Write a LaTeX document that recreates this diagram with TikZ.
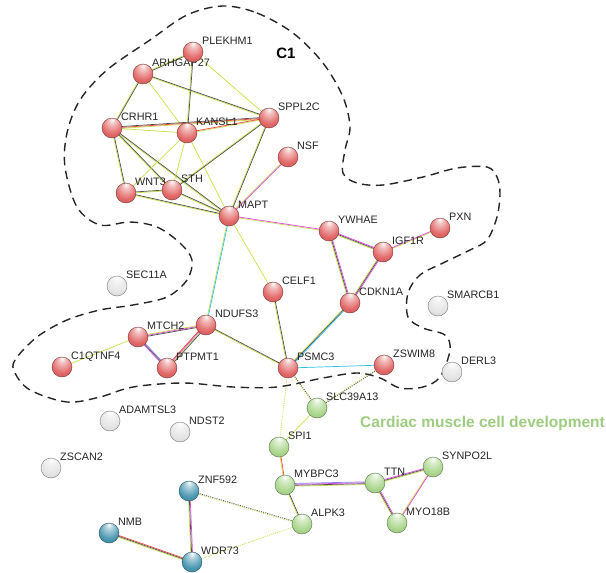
\documentclass[tikz,border=0pt]{standalone}
\usepackage{fontspec}
\setmainfont{Liberation Sans}
\usetikzlibrary{calc}
\pgfdeclarelayer{bgfill}\pgfdeclarelayer{bg}\pgfdeclarelayer{fg}
\pgfsetlayers{bgfill,bg,main,fg}
\definecolor{cR}{RGB}{226,102,102}
\definecolor{cG}{RGB}{170,214,140}
\definecolor{cT}{RGB}{72,150,176}
\definecolor{cW}{RGB}{228,228,228}
\definecolor{yl}{RGB}{200,226,72}
\definecolor{gy}{RGB}{80,80,80}
\definecolor{mg}{RGB}{222,70,222}
\definecolor{cy}{RGB}{45,190,232}
\definecolor{rd}{RGB}{240,70,70}
\definecolor{pu}{RGB}{140,130,235}
\definecolor{cardgreen}{RGB}{158,204,128}
\pgfdeclareradialshading{shR}{\pgfpoint{0bp}{22bp}}{color(0bp)=(white); color(8bp)=(cR!40!white); color(26bp)=(cR); color(44bp)=(cR!85!black); color(50bp)=(cR!68!black)}
\pgfdeclareradialshading{shG}{\pgfpoint{0bp}{22bp}}{color(0bp)=(white); color(8bp)=(cG!40!white); color(26bp)=(cG); color(44bp)=(cG!85!black); color(50bp)=(cG!68!black)}
\pgfdeclareradialshading{shT}{\pgfpoint{0bp}{22bp}}{color(0bp)=(white); color(8bp)=(cT!40!white); color(26bp)=(cT); color(44bp)=(cT!85!black); color(50bp)=(cT!68!black)}
\pgfdeclareradialshading{shW}{\pgfpoint{0bp}{22bp}}{color(0bp)=(white); color(8bp)=(cW!40!white); color(26bp)=(cW); color(44bp)=(cW!85!black); color(50bp)=(cW!68!black)}
\tikzset{
  prot/.style={circle, minimum size=20pt, inner sep=0pt, draw=c#1!55!black, line width=0.4pt, shading=sh#1},
  lab/.style={anchor=base west, inner sep=0pt, font=\fontsize{10.8}{12}\selectfont, text=black!85},
  linkline/.style={line width=0.7pt},
  dotlink/.style={dash pattern=on 1.1pt off 1.1pt},
  cluster/.style={draw=black!85, line width=1.4pt, dash pattern=on 8.5pt off 5.5pt}
}
\newcommand\pn[5]{%
  \begin{pgfonlayer}{fg}\node[prot=#4] (#1) at (#2,#3) {};\end{pgfonlayer}
  \node[lab] (#1-l) at (#2+9,#3-8) {#5};}
\newcommand\se[4][]{%
  \begin{pgfonlayer}{bg}
  \foreach \o/\c in {#4}{\draw[linkline,\c,#1] ($(#2.center)!\o!90:(#3.center)$) -- ($(#3.center)!\o!-90:(#2.center)$);}
  \end{pgfonlayer}}
\begin{document}
\begin{tikzpicture}[x=1pt,y=-1pt]
\useasboundingbox (0,0) rectangle (606,573);
\begin{pgfonlayer}{bgfill}\fill[white] (0,0) rectangle (606,573);\end{pgfonlayer}
% cluster outline
\draw[cluster] plot[smooth cycle, tension=0.55] coordinates {
(223,6) (257,13) (293,33) (323,63) (343,97) (350,127) (345,150) (343,173) (357,183)
(383,185) (423,177) (457,168) (487,167) (497,177) (500,193) (497,217) (487,240)
(470,250) (443,263) (420,275) (408,293) (408,317) (423,328) (445,335) (450,350)
(440,377) (423,387) (400,388) (380,378) (357,373) (323,378) (277,387) (233,387)
(183,383) (133,387) (100,397) (67,402) (30,390) (15,373) (15,360) (37,337) (67,320)
(100,310) (133,305) (167,297) (187,280) (192,260) (180,243) (157,227) (130,222)
(100,225) (77,207) (65,167) (67,133) (80,100) (107,70) (150,40) (187,15)};
\node[font=\bfseries\fontsize{15}{17}\selectfont, inner sep=0pt] (c1) at (286,53) {C1};
\node[anchor=west, inner sep=0pt, font=\bfseries\fontsize{15.5}{17}\selectfont, text=cardgreen] (cardiac) at (360,423) {Cardiac muscle cell development};
% proteins
\pn{PLEKHM1}{193}{52}{R}{PLEKHM1}
\pn{ARHGAP27}{143}{74}{R}{ARHGAP27}
\pn{CRHR1}{112}{128}{R}{CRHR1}
\pn{KANSL1}{187}{133}{R}{KANSL1}
\pn{SPPL2C}{269}{118}{R}{SPPL2C}
\pn{NSF}{288}{157}{R}{NSF}
\pn{WNT3}{126}{193}{R}{WNT3}
\pn{STH}{172}{190}{R}{STH}
\pn{MAPT}{229}{216}{R}{MAPT}
\pn{YWHAE}{329}{231}{R}{YWHAE}
\pn{PXN}{440}{228}{R}{PXN}
\pn{IGF1R}{383}{252}{R}{IGF1R}
\pn{CELF1}{273}{292}{R}{CELF1}
\pn{CDKN1A}{350}{303}{R}{CDKN1A}
\pn{NDUFS3}{206}{325}{R}{NDUFS3}
\pn{MTCH2}{138}{337}{R}{MTCH2}
\pn{C1QTNF4}{62}{367}{R}{C1QTNF4}
\pn{PTPMT1}{167}{368}{R}{PTPMT1}
\pn{PSMC3}{288}{368}{R}{PSMC3}
\pn{ZSWIM8}{384}{365}{R}{ZSWIM8}
\pn{SEC11A}{117}{286}{W}{SEC11A}
\pn{SMARCB1}{438}{306}{W}{SMARCB1}
\pn{DERL3}{452}{372}{W}{DERL3}
\pn{ADAMTSL3}{110}{421}{W}{ADAMTSL3}
\pn{NDST2}{180}{432}{W}{NDST2}
\pn{ZSCAN2}{51}{468}{W}{ZSCAN2}
\pn{SLC39A13}{317}{408}{G}{SLC39A13}
\pn{SPI1}{279}{447}{G}{SPI1}
\pn{MYBPC3}{285}{485}{G}{MYBPC3}
\pn{TTN}{375}{483}{G}{TTN}
\pn{SYNPO2L}{433}{467}{G}{SYNPO2L}
\pn{ALPK3}{302}{524}{G}{ALPK3}
\pn{MYO18B}{397}{523}{G}{MYO18B}
\pn{ZNF592}{189}{491}{T}{ZNF592}
\pn{NMB}{109}{533}{T}{NMB}
\pn{WDR73}{192}{562}{T}{WDR73}
% links
\se{PLEKHM1}{ARHGAP27}{-0.45pt/yl,0.45pt/gy}
\se{PLEKHM1}{KANSL1}{-0.45pt/yl,0.45pt/gy}
\se{PLEKHM1}{SPPL2C}{0pt/yl}
\se{ARHGAP27}{SPPL2C}{-0.45pt/yl,0.45pt/gy}
\se{ARHGAP27}{CRHR1}{-0.45pt/yl,0.45pt/gy}
\se{ARHGAP27}{KANSL1}{0pt/yl}
\se{CRHR1}{SPPL2C}{-0.9pt/yl,0pt/rd,0.9pt/gy}
\se{CRHR1}{KANSL1}{0pt/yl}
\se{KANSL1}{SPPL2C}{-0.45pt/yl,0.45pt/rd}
\se{CRHR1}{WNT3}{-0.45pt/yl,0.45pt/gy}
\se{CRHR1}{STH}{-0.45pt/yl,0.45pt/gy}
\se{CRHR1}{MAPT}{-0.45pt/yl,0.45pt/gy}
\se{KANSL1}{WNT3}{0pt/yl}
\se{KANSL1}{STH}{0pt/yl}
\se{KANSL1}{MAPT}{0pt/yl}
\se{SPPL2C}{STH}{-0.45pt/yl,0.45pt/gy}
\se{SPPL2C}{MAPT}{-0.45pt/yl,0.45pt/gy}
\se{WNT3}{STH}{-0.45pt/yl,0.45pt/gy}
\se{WNT3}{MAPT}{-0.45pt/yl,0.45pt/gy}
\se{STH}{MAPT}{-0.45pt/yl,0.45pt/gy}
\se{NSF}{MAPT}{-0.45pt/yl,0.45pt/mg}
\se{MAPT}{YWHAE}{-0.45pt/yl,0.45pt/mg}
\se{MAPT}{CELF1}{0pt/yl}
\se{MAPT}{NDUFS3}{-0.45pt/yl,0.45pt/cy}
\se{YWHAE}{IGF1R}{-0.9pt/yl,0pt/gy,0.9pt/mg}
\se{YWHAE}{CDKN1A}{-0.9pt/yl,0pt/gy,0.9pt/mg}
\se{IGF1R}{PXN}{-0.45pt/yl,0.45pt/mg}
\se{IGF1R}{CDKN1A}{-0.9pt/yl,0pt/gy,0.9pt/mg}
\se{CDKN1A}{PSMC3}{-0.9pt/yl,0pt/gy,0.9pt/cy}
\se{CELF1}{PSMC3}{-0.45pt/yl,0.45pt/gy}
\se{NDUFS3}{PSMC3}{-0.45pt/yl,0.45pt/gy}
\se{NDUFS3}{MTCH2}{-0.9pt/yl,0pt/mg,0.9pt/gy}
\se{NDUFS3}{PTPMT1}{-1.35pt/rd,-0.45pt/mg,0.45pt/yl,1.35pt/gy}
\se{MTCH2}{PTPMT1}{-0.9pt/mg,0pt/gy,0.9pt/pu}
\se{MTCH2}{C1QTNF4}{0pt/yl}
\se{PSMC3}{ZSWIM8}{0pt/cy}
\se[dotlink]{PSMC3}{SLC39A13}{-0.45pt/yl,0.45pt/gy}
\se[dotlink]{PSMC3}{SPI1}{0pt/yl}
\se[dotlink]{ZSWIM8}{SLC39A13}{-0.45pt/yl,0.45pt/gy}
\se{SLC39A13}{SPI1}{0pt/yl}
\se{SPI1}{MYBPC3}{-0.45pt/yl,0.45pt/rd}
\se{MYBPC3}{TTN}{-1.35pt/yl,-0.45pt/gy,0.45pt/mg,1.35pt/pu}
\se{MYBPC3}{ALPK3}{-0.45pt/yl,0.45pt/gy}
\se{TTN}{SYNPO2L}{-0.9pt/yl,0pt/gy,0.9pt/mg}
\se{TTN}{MYO18B}{-0.9pt/yl,0pt/gy,0.9pt/mg}
\se{SYNPO2L}{MYO18B}{-0.45pt/yl,0.45pt/mg}
\se{ZNF592}{WDR73}{-0.9pt/yl,0pt/gy,0.9pt/mg}
\se[dotlink]{ZNF592}{ALPK3}{-0.45pt/yl,0.45pt/gy}
\se{NMB}{WDR73}{-0.9pt/yl,0pt/gy,0.9pt/rd}
\se[dotlink]{WDR73}{ALPK3}{0pt/yl}
\end{tikzpicture}
\end{document}
